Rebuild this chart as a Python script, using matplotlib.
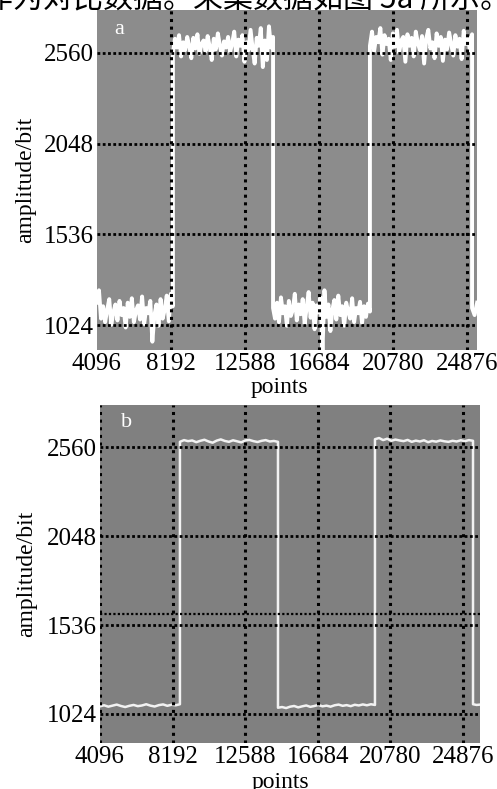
import matplotlib.pyplot as plt
import numpy as np

plt.rcParams['font.family'] = ['Liberation Serif', 'DejaVu Serif']

# grid positions on the "points" axis and the labels printed under them
tick_pos = [4096, 8192, 12288, 16384, 20480, 24576]
tick_labels = ['4096', '8192', '12588', '16684', '20780', '24876']
y_ticks = [1024, 1536, 2048, 2560]

# figure a : raw acquisition, noisy square wave
a_edges = [4096, 8300, 13840, 19200, 24850, 25130]
a_low1 = [1150, 1220, 1060, 1130, 1040, 1110, 1170, 1025, 1095, 1140, 1050, 1160, 1080,
          1120, 1010, 1150, 1070, 1175, 1040, 1105, 1135, 1055, 1185, 1030, 1120, 1090,
          1160, 930, 1080, 1140, 1020, 1170, 1060, 1110, 1190, 1045, 1200, 1130]
a_high1 = [2560, 2640, 2590, 2660, 2540, 2620, 2575, 2650, 2600, 2530, 2645, 2585, 2665,
           2555, 2610, 2630, 2570, 2655, 2595, 2520, 2640, 2580, 2670, 2600, 2545, 2625,
           2590, 2650, 2565, 2615, 2680, 2540, 2635, 2600, 2660, 2510, 2620, 2575, 2690,
           2585, 2500, 2645, 2600, 2700, 2480, 2630, 2520, 2710, 2590, 2650]
a_low2 = [1120, 1060, 1150, 1040, 1180, 1090, 1130, 1020, 1160, 1075, 1110, 1200, 1050,
          1140, 1085, 1170, 1030, 1125, 1210, 1065, 1150, 1000, 1135, 1095, 1180, 880,
          1220, 1070, 1140, 990, 1110, 1165, 1055, 1190, 1080, 1130, 1020, 1150, 1100,
          1060, 1175, 1040, 1120, 1090, 1155, 1035, 1130, 1070, 1145, 1100]
a_high2 = [2600, 2680, 2570, 2650, 2620, 2700, 2550, 2660, 2610, 2640, 2520, 2670, 2595,
           2690, 2560, 2630, 2650, 2510, 2665, 2600, 2645, 2540, 2680, 2615, 2575, 2655,
           2500, 2640, 2690, 2585, 2620, 2530, 2670, 2600, 2650, 2515, 2635, 2580, 2675,
           2610, 2545, 2660, 2595, 2640, 2525, 2685, 2610, 2650, 2570, 2665]
a_low3 = [1120, 1080, 1150]

# figure b : same signal after processing
b_edges = [4096, 8610, 14140, 19610, 25140, 25540]
b_low1 = [1068, 1074, 1066, 1072, 1078, 1070, 1064, 1071, 1076, 1069, 1073, 1080, 1072,
          1067, 1075, 1079, 1071, 1077, 1074, 1080]
b_high1 = [2590, 2600, 2594, 2598, 2588, 2596, 2602, 2592, 2585, 2597, 2604, 2595, 2590,
           2599, 2593, 2587, 2598, 2601, 2594, 2589, 2596, 2600, 2592, 2595, 2590]
b_low2 = [1060, 1064, 1058, 1066, 1070, 1062, 1068, 1073, 1065, 1070, 1076, 1068, 1072,
          1066, 1074, 1078, 1071, 1075, 1069, 1077, 1073, 1079, 1074, 1080, 1076]
b_high2 = [2605, 2612, 2600, 2608, 2596, 2603, 2598, 2594, 2601, 2590, 2597, 2592, 2599,
           2588, 2595, 2591, 2598, 2593, 2590, 2596, 2592, 2599, 2594, 2600, 2596]
b_low3 = [1080, 1076, 1078]
b_extra_line = 1600

caption = '作为对比数据。采集数据如图 5a 所示。'


def build_series(edges, segments):
    xs, ys = [], []
    for i, seg in enumerate(segments):
        xs.extend(np.linspace(edges[i], edges[i + 1], len(seg)))
        ys.extend(seg)
    return np.array(xs), np.array(ys)


def style_axes(ax, bg, xmax, ymin, vgrid):
    ax.set_facecolor(bg)
    ax.set_xlim(4096, xmax)
    ax.set_ylim(ymin, 2802)
    ax.set_xticks(tick_pos)
    ax.set_xticklabels(tick_labels)
    ax.set_yticks(y_ticks)
    ax.tick_params(length=0, labelsize=18, pad=2)
    for s in ax.spines.values():
        s.set_visible(False)
    for v in vgrid:
        ax.axvline(v, color='black', lw=2.2, ls=(0, (1.0, 1.5)), zorder=3)
    for h in y_ticks:
        ax.axhline(h, color='black', lw=2.0, ls=(0, (1.0, 0.9)), zorder=3)
    ax.set_ylabel('amplitude/bit', fontsize=17)
    ax.set_xlabel('points', fontsize=17)


fig = plt.figure(figsize=(4.97, 7.89), dpi=100)

# --- a
ax1 = fig.add_axes([0.195, 0.5564, 0.765, 0.4309])
xa, ya = build_series(a_edges, [a_low1, a_high1, a_low2, a_high2, a_low3])
ax1.plot(xa, ya, color='white', lw=2.8, zorder=2)
style_axes(ax1, '#8c8c8c', 25130, 883, tick_pos[1:])
ax1.text(0.045, 0.97, 'a', transform=ax1.transAxes, color='white', fontsize=16,
         ha='left', va='top')
ax1.yaxis.set_label_coords(-0.16, 0.5)
ax1.xaxis.set_label_coords(0.479, -0.08)

# --- b
ax2 = fig.add_axes([0.201, 0.0583, 0.765, 0.4284])
xb, yb = build_series(b_edges, [b_low1, b_high1, b_low2, b_high2, b_low3])
ax2.plot(xb, yb, color='#f2f2f2', lw=1.8, zorder=2)
style_axes(ax2, '#808080', 25540, 857, tick_pos)
ax2.axhline(b_extra_line, color='black', lw=1.6, ls=(0, (1.0, 1.0)), zorder=3)
ax2.text(0.055, 0.975, 'b', transform=ax2.transAxes, color='white', fontsize=16,
         ha='left', va='top')
ax2.yaxis.set_label_coords(-0.165, 0.5)
ax2.xaxis.set_label_coords(0.474, -0.085)

# caption line cut off at the top of the page
fig.text(-17 / 497, 1 - 7 / 789, caption, fontsize=21.6, ha='left', va='baseline',
         family=['Noto Sans CJK SC', 'DejaVu Sans'])

fig.savefig('out.png', dpi=100)
